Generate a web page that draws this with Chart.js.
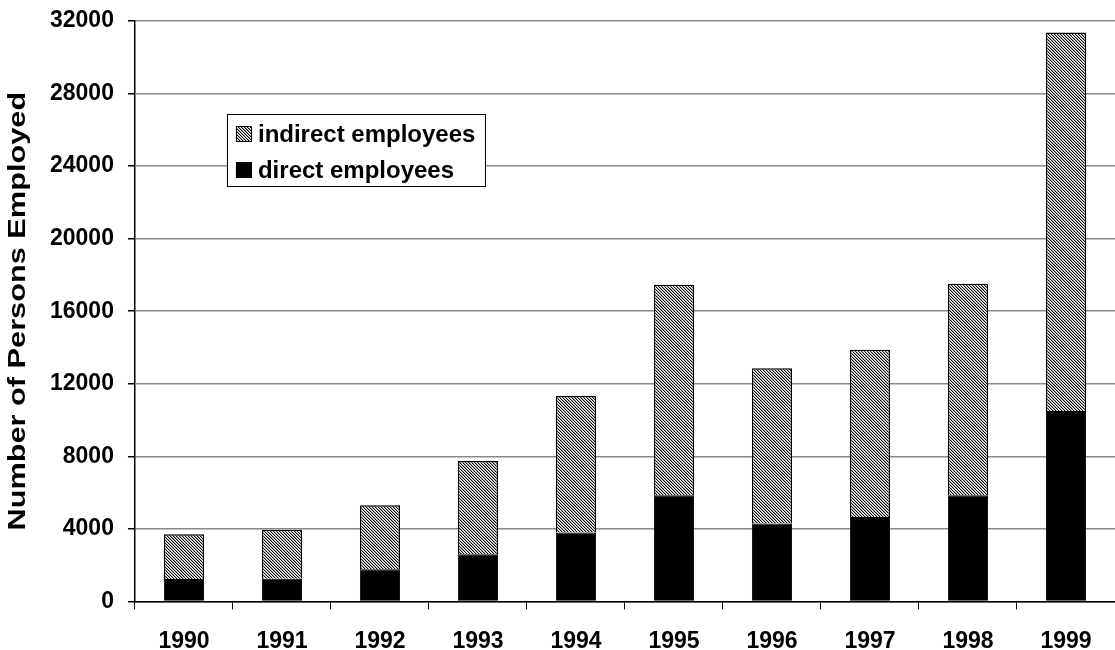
<!DOCTYPE html>
<html>
<head>
<meta charset="utf-8">
<script src="https://cdn.jsdelivr.net/npm/chart.js@4/dist/chart.umd.min.js"></script>
<style>
  html, body { margin: 0; padding: 0; background: #fff; overflow: hidden; }
  #wrap { width: 1115px; height: 650px; position: relative; }
</style>
</head>
<body>
<div id="wrap"><canvas id="c" width="1115" height="650"></canvas></div>
<script>
const years = ['1990','1991','1992','1993','1994','1995','1996','1997','1998','1999'];
const directEmployees = [1230, 1250, 1770, 2600, 3800, 5850, 4300, 4650, 5850, 10500];
const indirectEmployees = [2470, 2700, 3530, 5140, 7530, 11610, 8550, 9230, 11670, 20860];
const yMax = 32000;
const yStep = 4000;
const yTitle = 'Number of Persons Employed';
const legendOrder = [1, 0];

function makeHatch() {
  const p = document.createElement('canvas');
  p.width = 3; p.height = 3;
  const g = p.getContext('2d');
  for (let yy = 0; yy < 3; yy++) {
    for (let xx = 0; xx < 3; xx++) {
      const d = ((xx - yy) % 3 + 3) % 3;
      g.fillStyle = d === 0 ? '#000000' : (d === 1 ? '#aaaaaa' : '#ffffff');
      g.fillRect(xx, yy, 1, 1);
    }
  }
  return g.createPattern(p, 'repeat');
}
const ctx0 = document.getElementById('c').getContext('2d');
const hatch = makeHatch();

const FONT = '"Liberation Sans", Arial, sans-serif';

const legendPlugin = {
  id: 'boxLegend',
  afterDatasetsDraw(chart) {
    const ctx = chart.ctx;
    const a = chart.chartArea;
    const x = a.left + 92, y = a.top + 93, w = 258, h = 72;
    ctx.save();
    ctx.fillStyle = '#fff';
    ctx.fillRect(x, y, w, h);
    ctx.strokeStyle = '#000';
    ctx.lineWidth = 1;
    ctx.strokeRect(x + 0.5, y + 0.5, w, h);
    ctx.font = 'bold 24px ' + FONT;
    ctx.textBaseline = 'middle';
    legendOrder.forEach((di, row) => {
      const ds = chart.data.datasets[di];
      const cy = y + 20 + row * 36;
      ctx.fillStyle = ds.backgroundColor;
      ctx.fillRect(x + 9, cy - 8, 16, 16);
      ctx.strokeStyle = '#000';
      ctx.strokeRect(x + 9.5, cy - 7.5, 15, 15);
      ctx.fillStyle = '#000';
      ctx.fillText(ds.label, x + 31, cy + 1);
    });
    ctx.restore();
  }
};

const titlePlugin = {
  id: 'stretchedYTitle',
  afterDraw(chart) {
    const ctx = chart.ctx;
    const a = chart.chartArea;
    ctx.save();
    ctx.translate(18, (a.top + a.bottom) / 2);
    ctx.rotate(-Math.PI / 2);
    ctx.scale(1.28, 1);
    ctx.font = 'bold 24px ' + FONT;
    ctx.fillStyle = '#000';
    ctx.textAlign = 'center';
    ctx.textBaseline = 'middle';
    ctx.fillText(yTitle, 0, 0);
    ctx.restore();
  }
};

new Chart(ctx0, {
  type: 'bar',
  data: {
    labels: years,
    datasets: [
      { label: 'direct employees', data: directEmployees, backgroundColor: '#000000',
        borderColor: '#000000', borderWidth: 1 },
      { label: 'indirect employees', data: indirectEmployees, backgroundColor: hatch,
        borderColor: '#000000', borderWidth: 1.5 }
    ]
  },
  options: {
    responsive: false,
    animation: false,
    layout: { padding: { top: 21, right: 0, bottom: -23, left: 36 } },
    datasets: { bar: { categoryPercentage: 1, barPercentage: 0.41 } },
    plugins: { legend: { display: false }, tooltip: { enabled: false } },
    scales: {
      x: {
        stacked: true,
        grid: { drawOnChartArea: false, drawTicks: true, tickLength: 8, color: '#000', offset: true },
        border: { color: '#000', width: 1.5 },
        ticks: { color: '#000', font: { family: FONT, size: 23, weight: 'bold' }, padding: 18 }
      },
      y: {
        stacked: true,
        min: 0, max: yMax,
        afterFit: (s) => { s.paddingTop = 0; },
        grid: { color: '#888', lineWidth: 1.5, tickLength: 7, tickColor: '#000' },
        border: { color: '#000', width: 1.5 },
        ticks: { stepSize: yStep, color: '#000', font: { family: FONT, size: 23, weight: 'bold' }, padding: 14,
                 callback: (v) => String(v) }
      }
    }
  },
  plugins: [legendPlugin, titlePlugin]
});
</script>
</body>
</html>
